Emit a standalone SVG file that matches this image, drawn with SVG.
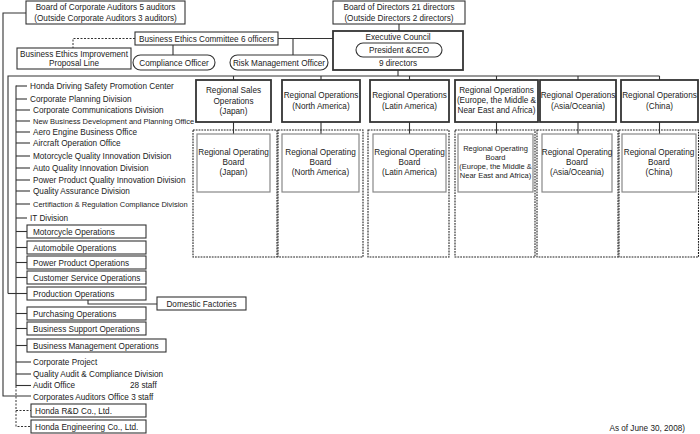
<svg xmlns="http://www.w3.org/2000/svg" width="700" height="434" viewBox="0 0 700 434">
<style>
text{font-family:"Liberation Sans",Arial,sans-serif;font-size:8.2px;fill:#222}
.s{font-size:7.5px}
.c{text-anchor:middle}
.b{fill:#fff;stroke:#333;stroke-width:1.1}
.bt{fill:#fff;stroke:#333;stroke-width:1.8}
.bg{fill:#fff;stroke:#888;stroke-width:1.2}
.dc{fill:none;stroke:#222;stroke-width:1.1;stroke-dasharray:1.8 1}
.ln{fill:none;stroke:#333;stroke-width:1.1}
.dl{fill:none;stroke:#333;stroke-width:1;stroke-dasharray:2 1.5}
</style>
<rect width="700" height="434" fill="#fff"/>

<g id="connectors">
<polyline class="ln" points="26,13 3,13 3,396 31,396"/>
<line class="ln" x1="399" y1="24" x2="399" y2="31"/>
<line class="ln" x1="398" y1="70" x2="398" y2="76"/>
<polyline class="ln" points="8,293.5 8,76 659.5,76"/>
<line class="ln" x1="8" y1="293.5" x2="27" y2="293.5"/>
<line class="ln" x1="233.5" y1="76" x2="233.5" y2="80"/>
<line class="ln" x1="321" y1="76" x2="321" y2="80"/>
<line class="ln" x1="409.5" y1="76" x2="409.5" y2="80"/>
<line class="ln" x1="496.5" y1="76" x2="496.5" y2="80"/>
<line class="ln" x1="578" y1="76" x2="578" y2="80"/>
<line class="ln" x1="659.5" y1="76" x2="659.5" y2="80"/>
<line class="ln" x1="233.5" y1="122" x2="233.5" y2="134"/>
<line class="ln" x1="321" y1="122" x2="321" y2="134"/>
<line class="ln" x1="409.5" y1="122" x2="409.5" y2="134"/>
<line class="ln" x1="496.5" y1="122" x2="496.5" y2="134"/>
<line class="ln" x1="578" y1="122" x2="578" y2="134"/>
<line class="ln" x1="659.5" y1="122" x2="659.5" y2="134"/>
<line class="ln" x1="278" y1="38.5" x2="333" y2="38.5"/>
<line class="ln" x1="293" y1="38.5" x2="293" y2="55"/>
<line class="ln" x1="173" y1="45" x2="173" y2="55"/>
<polyline class="dl" points="135,38.5 73,38.5 73,48"/>
<line class="ln" x1="16" y1="85.5" x2="16" y2="386"/>
<line class="ln" x1="16" y1="86" x2="27" y2="86"/>
<line class="ln" x1="16" y1="99" x2="27" y2="99"/>
<line class="ln" x1="16" y1="110" x2="30" y2="110"/>
<line class="ln" x1="16" y1="121" x2="30" y2="121"/>
<line class="ln" x1="16" y1="132" x2="30" y2="132"/>
<line class="ln" x1="16" y1="143" x2="30" y2="143"/>
<line class="ln" x1="16" y1="156" x2="30" y2="156"/>
<line class="ln" x1="16" y1="168" x2="30" y2="168"/>
<line class="ln" x1="16" y1="180" x2="30" y2="180"/>
<line class="ln" x1="16" y1="191" x2="30" y2="191"/>
<line class="ln" x1="16" y1="204" x2="30" y2="204"/>
<line class="ln" x1="16" y1="218" x2="27" y2="218"/>
<line class="ln" x1="16" y1="231.5" x2="27" y2="231.5"/>
<line class="ln" x1="16" y1="247.5" x2="27" y2="247.5"/>
<line class="ln" x1="16" y1="262.5" x2="27" y2="262.5"/>
<line class="ln" x1="16" y1="277.5" x2="27" y2="277.5"/>
<line class="ln" x1="16" y1="313.5" x2="27" y2="313.5"/>
<line class="ln" x1="16" y1="328.5" x2="27" y2="328.5"/>
<line class="ln" x1="16" y1="345.5" x2="27" y2="345.5"/>
<line class="ln" x1="16" y1="362" x2="31" y2="362"/>
<line class="ln" x1="16" y1="374" x2="31" y2="374"/>
<line class="ln" x1="16" y1="385.5" x2="31" y2="385.5"/>
<polyline class="ln" points="88,300 88,304 157,304"/>
<polyline class="dl" points="16,386 16,426.5 31,426.5"/>
<line class="dl" x1="16" y1="410.5" x2="31" y2="410.5"/>
</g>

<g id="board-auditors"><rect class="b" x="26" y="1" width="159" height="23"/>
<text class="c" x="105.5" y="10">Board of Corporate Auditors 5 auditors</text>
<text class="c" x="105.5" y="20.5">(Outside Corporate Auditors 3 auditors)</text></g>

<g id="board-directors"><rect class="b" x="333" y="1" width="132" height="23"/>
<text class="c" x="399" y="10">Board of Directors 21 directors</text>
<text class="c" x="399" y="20.5">(Outside Directors 2 directors)</text></g>

<g id="ethics-committee"><rect class="b" x="135" y="32" width="143" height="13"/>
<text class="c" x="206.5" y="41.5">Business Ethics Committee 6 officers</text></g>

<g id="ethics-proposal"><rect class="b" x="17" y="48" width="114" height="21"/>
<text class="c" x="74" y="56.5">Business Ethics Improvement</text>
<text class="c" x="74" y="66">Proposal Line</text></g>

<g id="compliance-officer"><rect class="b" x="133" y="55" width="82" height="15" rx="7.5"/>
<text class="c" x="174" y="65.5">Compliance Officer</text></g>

<g id="risk-officer"><rect class="b" x="230" y="55" width="98" height="15" rx="7.5"/>
<text class="c" x="279" y="65.5">Risk Management Officer</text></g>

<g id="executive-council"><rect class="bt" x="333" y="31" width="130" height="39"/>
<text class="c" x="398" y="39.5">Executive Council</text>
<rect class="b" x="356" y="43" width="86" height="14" rx="7"/>
<text class="c" x="399" y="53">President &amp;CEO</text>
<text class="c" x="398" y="66">9 directors</text></g>

<g id="region-japan">
<rect class="dc" x="193" y="130" width="84" height="127"/>
<rect class="bt" x="196" y="80" width="75" height="42"/>
<text class="c" x="233.5" y="93">Regional Sales</text>
<text class="c" x="233.5" y="103.5">Operations</text>
<text class="c" x="233.5" y="114">(Japan)</text>
<rect class="bg" x="197" y="134" width="73" height="58"/>
<text class="c" x="233.5" y="155">Regional Operating</text>
<text class="c" x="233.5" y="165">Board</text>
<text class="c" x="233.5" y="175">(Japan)</text></g>

<g id="region-north-america">
<rect class="dc" x="278" y="130" width="85" height="127"/>
<rect class="bt" x="282" y="80" width="78" height="42"/>
<text class="c" x="321" y="98">Regional Operations</text>
<text class="c" x="321" y="108.5">(North America)</text>
<rect class="bg" x="282" y="134" width="77" height="58"/>
<text class="c" x="320.5" y="155">Regional Operating</text>
<text class="c" x="320.5" y="165">Board</text>
<text class="c" x="320.5" y="175">(North America)</text></g>

<g id="region-latin-america">
<rect class="dc" x="368" y="130" width="81" height="127"/>
<rect class="bt" x="370" y="80" width="79" height="42"/>
<text class="c" x="409.5" y="98">Regional Operations</text>
<text class="c" x="409.5" y="108.5">(Latin America)</text>
<rect class="bg" x="373" y="134" width="73" height="58"/>
<text class="c" x="409.5" y="155">Regional Operating</text>
<text class="c" x="409.5" y="165">Board</text>
<text class="c" x="409.5" y="175">(Latin America)</text></g>

<g id="region-europe">
<rect class="dc" x="455" y="130" width="80" height="127"/>
<rect class="bt" x="455" y="80" width="83" height="42"/>
<text class="c" x="496.5" y="93">Regional Operations</text>
<text class="c" x="496.5" y="103">(Europe, the Middle &amp;</text>
<text class="c" x="496.5" y="113">Near East and Africa)</text>
<rect class="bg" x="458" y="134" width="75" height="58"/>
<text class="c s" x="495.5" y="151">Regional Operating</text>
<text class="c s" x="495.5" y="160">Board</text>
<text class="c s" x="495.5" y="169">(Europe, the Middle &amp;</text>
<text class="c s" x="495.5" y="178">Near East and Africa)</text></g>

<g id="region-asia">
<rect class="dc" x="537" y="130" width="81" height="127"/>
<rect class="bt" x="540" y="80" width="76" height="42"/>
<text class="c" x="578" y="98">Regional Operations</text>
<text class="c" x="578" y="108.5">(Asia/Oceania)</text>
<rect class="bg" x="542" y="134" width="70" height="58"/>
<text class="c" x="577" y="155">Regional Operating</text>
<text class="c" x="577" y="165">Board</text>
<text class="c" x="577" y="175">(Asia/Oceania)</text></g>

<g id="region-china">
<rect class="dc" x="619" y="130" width="79.5" height="127"/>
<rect class="bt" x="621" y="80" width="77" height="42"/>
<text class="c" x="659.5" y="98">Regional Operations</text>
<text class="c" x="659.5" y="108.5">(China)</text>
<rect class="bg" x="622" y="134" width="74" height="58"/>
<text class="c" x="659" y="155">Regional Operating</text>
<text class="c" x="659" y="165">Board</text>
<text class="c" x="659" y="175">(China)</text></g>

<g id="divisions">
<text x="30" y="88.5">Honda Driving Safety Promotion Center</text>
<text x="30" y="101.5">Corporate Planning Division</text>
<text x="33" y="113">Corporate Communications Division</text>
<text class="s" x="33" y="123.7">New Business Development and Planning Office</text>
<text x="33" y="135">Aero Engine Business Office</text>
<text x="33" y="146">Aircraft Operation Office</text>
<text x="33" y="159">Motorcycle Quality Innovation Division</text>
<text x="33" y="171">Auto Quality Innovation Division</text>
<text x="33" y="183">Power Product Quality Innovation Division</text>
<text x="33" y="194">Quality Assurance Division</text>
<text class="s" x="33" y="206.7">Certifiaction &amp; Regulation Compliance Division</text>
<text x="30" y="221">IT Division</text>
</g>

<g id="motorcycle-ops"><rect class="b" x="27" y="225" width="119" height="13"/><text x="33" y="234.5">Motorcycle Operations</text></g>
<g id="automobile-ops"><rect class="b" x="27" y="241" width="119" height="13"/><text x="33" y="250.5">Automobile Operations</text></g>
<g id="power-product-ops"><rect class="b" x="27" y="256" width="119" height="13"/><text x="33" y="265.5">Power Product Operations</text></g>
<g id="customer-service-ops"><rect class="b" x="27" y="271" width="119" height="13"/><text x="33" y="280.5">Customer Service Operations</text></g>
<g id="production-ops"><rect class="b" x="27" y="287" width="119" height="13"/><text x="33" y="296.5">Production Operations</text></g>
<g id="domestic-factories"><rect class="b" x="157" y="297" width="89" height="13"/><text class="c" x="201.5" y="306.5">Domestic Factories</text></g>
<g id="purchasing-ops"><rect class="b" x="27" y="307" width="119" height="13"/><text x="33" y="316.5">Purchasing Operations</text></g>
<g id="business-support-ops"><rect class="b" x="27" y="322" width="119" height="13"/><text x="33" y="331.5">Business Support Operations</text></g>
<g id="business-management-ops"><rect class="b" x="27" y="339" width="139" height="13"/><text x="33" y="348.5">Business Management Operations</text></g>

<g id="others">
<text x="33" y="364.5">Corporate Project</text>
<text x="33" y="376.5">Quality Audit &amp; Compliance Division</text>
<text x="33" y="388">Audit Office</text>
<text x="130" y="388">28 staff</text>
<text x="33" y="399.5">Corporates Auditors Office 3 staff</text>
</g>

<g id="honda-rd"><rect class="b" x="31" y="404" width="115" height="13"/><text x="35" y="413.5">Honda R&amp;D Co., Ltd.</text></g>
<g id="honda-engineering"><rect class="b" x="31" y="420" width="115" height="13"/><text x="35" y="429.5">Honda Engineering Co., Ltd.</text></g>

<text x="685" y="431" style="text-anchor:end">As of June 30, 2008)</text>
</svg>
